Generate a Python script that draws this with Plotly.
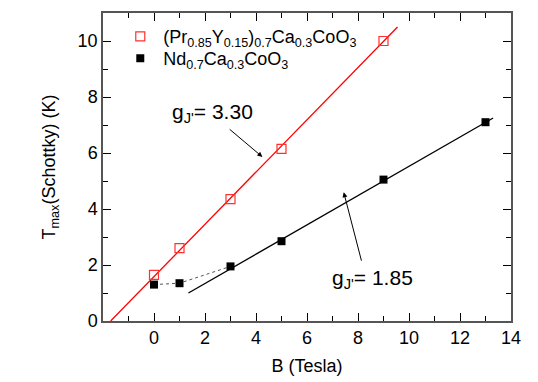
import plotly.graph_objects as go

# measured points
b_pryca = [0, 1, 3, 5, 9]
t_pryca = [1.65, 2.6, 4.35, 6.15, 10.0]
b_ndca = [0, 1, 3, 5, 9, 13]
t_ndca = [1.3, 1.35, 1.95, 2.85, 5.05, 7.1]

# low-field points joined by a dotted guide
b_low = [0, 1, 3]
t_low = [1.3, 1.35, 1.95]

# linear fits (end points)
fit_red_b = [-1.7, 9.55]
fit_red_t = [0.0, 10.5]
fit_blk_b = [1.35, 13.3]
fit_blk_t = [1.0, 7.25]

FONT = "Liberation Sans, Arial, sans-serif"
AXC = "#555555"

fig = go.Figure()

fig.add_trace(go.Scatter(x=fit_red_b, y=fit_red_t, mode="lines",
                         line=dict(color="red", width=1.3), showlegend=False))
fig.add_trace(go.Scatter(x=fit_blk_b, y=fit_blk_t, mode="lines",
                         line=dict(color="black", width=1.3), showlegend=False))
fig.add_trace(go.Scatter(x=b_low, y=t_low, mode="lines",
                         line=dict(color="#555555", width=1, dash="dot"), showlegend=False))

fig.add_trace(go.Scatter(
    x=b_pryca, y=t_pryca, mode="markers", legend="legend",
    name="(Pr<sub>0.85</sub>Y<sub>0.15</sub>)<sub>0.7</sub>Ca<sub>0.3</sub>CoO<sub>3</sub>",
    marker=dict(symbol="square-open", size=9, color="#ff3030", line=dict(width=1.2))))
fig.add_trace(go.Scatter(
    x=b_ndca, y=t_ndca, mode="markers", legend="legend2",
    name="Nd<sub>0.7</sub>Ca<sub>0.3</sub>CoO<sub>3</sub>",
    marker=dict(symbol="square", size=8, color="black")))

fig.add_annotation(x=4.25, y=5.86, ax=2.91, ay=6.89, xref="x", yref="y",
                   axref="x", ayref="y", showarrow=True, arrowhead=2,
                   arrowsize=1, arrowwidth=1, arrowcolor="black", text="")
fig.add_annotation(x=7.44, y=4.6, ax=8.15, ay=2.1, xref="x", yref="y",
                   axref="x", ayref="y", showarrow=True, arrowhead=2,
                   arrowsize=1, arrowwidth=1, arrowcolor="black", text="")
fig.add_annotation(x=2.28, y=7.43, xref="x", yref="y", showarrow=False,
                   text="g<sub>J'</sub>= 3.30", font=dict(size=21, color="black"))
fig.add_annotation(x=8.58, y=1.5, xref="x", yref="y", showarrow=False,
                   text="g<sub>J'</sub>= 1.85", font=dict(size=21, color="black"))

axis_common = dict(
    showgrid=False, zeroline=False, showline=True, linecolor=AXC, linewidth=1.5,
    mirror="allticks", ticks="inside", ticklen=8, tickwidth=1, tickcolor="black",
    tickfont=dict(size=18, color="black"), automargin=False,
    minor=dict(ticks="inside", ticklen=5, tickwidth=1, tickcolor="black", dtick=1),
)

fig.update_xaxes(range=[-2, 14], tickvals=[0, 2, 4, 6, 8, 10, 12, 14],
                 title=dict(text="B (Tesla)", font=dict(size=18, color="black"), standoff=12),
                 **axis_common)
fig.update_yaxes(range=[0, 11], tick0=0, dtick=2,
                 title=dict(text="T<sub>max</sub>(Schottky) (K)",
                            font=dict(size=18, color="black"), standoff=17),
                 **axis_common)

leg = dict(x=0.035, xanchor="left", yanchor="top", bgcolor="rgba(0,0,0,0)",
           font=dict(size=18), itemwidth=36)

# page body adds an 8px offset, so the figure is 8px smaller than the window
fig.update_layout(
    width=530, height=374,
    margin=dict(l=95, r=27, t=5, b=61),
    plot_bgcolor="white", paper_bgcolor="white",
    font=dict(family=FONT, color="black"),
    legend=dict(y=0.983, **leg),
    legend2=dict(y=0.912, **leg),
)

fig.write_html("out.html")
